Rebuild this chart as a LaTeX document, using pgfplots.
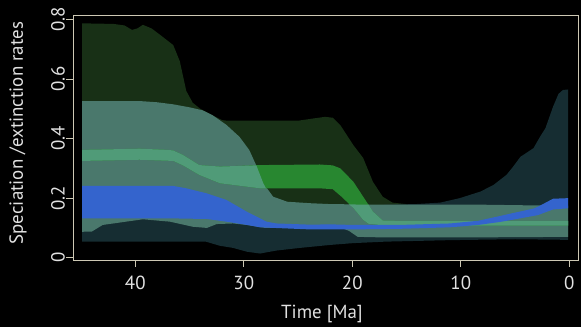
\documentclass[border=0pt]{standalone}
\usepackage{pgfplots}
\pgfplotsset{compat=1.18}
\usepackage{fontspec}
\setmainfont{PT Sans}
\definecolor{dkgreen}{RGB}{24,48,22}
\definecolor{dkteal}{RGB}{22,45,50}
\definecolor{greyteal}{RGB}{74,120,108}
\definecolor{ltgreen}{RGB}{80,155,120}
\definecolor{brgreen}{RGB}{40,135,48}
\definecolor{bandblue}{RGB}{52,100,205}
\definecolor{frame}{RGB}{205,200,180}
\definecolor{txt}{RGB}{225,225,225}
\begin{document}
\begin{tikzpicture}
\path[use as bounding box] (-73bp,-67bp) rectangle (508bp,260bp);
\fill[black] (-73bp,-67bp) rectangle (508bp,260bp);
\begin{axis}[
  at={(0,0)}, anchor=south west,
  scale only axis, width=505bp, height=245bp,
  x dir=reverse,
  xmin=-0.8, xmax=45.74, ymin=-0.0077, ymax=0.815,
  xtick={0,10,20,30,40}, ytick={0,0.2,0.4,0.6,0.8},
  xtick pos=bottom, ytick pos=left,
  tick align=outside, major tick length=6.7bp,
  axis line style={draw=frame, line width=0.8bp},
  every tick/.style={draw=frame, line width=0.8bp},
  /pgf/number format/assume math mode=true,
  ticklabel style={font=\fontsize{19}{22}\selectfont, text=txt},
  yticklabel style={rotate=90, anchor=south},
  xticklabel style={anchor=north},
  yticklabel shift=-2bp, xticklabel shift=6bp,
  xlabel={Time [Ma]}, ylabel={Speciation /extinction rates},
  label style={font=\fontsize{19}{22}\selectfont, text=txt},
  xlabel style={at={(axis description cs:0.493,-0.22)}, anchor=center},
  ylabel style={at={(axis description cs:-0.109,0.518)}, anchor=center, rotate=0},
]
% dark green outer speciation band
\addplot[fill=dkgreen, draw=none] coordinates {
(44.9,0.787)(42,0.785)(41,0.78)(40.3,0.765)(39.8,0.77)(39.3,0.782)(38.5,0.77)(37.7,0.748)(36.5,0.714)(35.9,0.66)(35.3,0.56)(34.7,0.52)(34,0.5)(33,0.48)(32,0.462)(31.5,0.46)(25,0.46)(23.5,0.468)(22.5,0.473)(21.8,0.47)(21.1,0.445)(19.9,0.378)(19,0.335)(18.1,0.255)(17.2,0.205)(16.3,0.185)(15,0.18)
(15,0.15)(44.9,0.15)} -- cycle;
% dark teal outer extinction band
\addplot[fill=dkteal, draw=none] coordinates {
(44.9,0.14)(20,0.14)(17,0.178)(14.2,0.18)(11.9,0.185)(10.1,0.2)(8.2,0.222)(7,0.244)(5.8,0.278)(5.3,0.3)(4.5,0.339)(3.3,0.368)(2.7,0.406)(2.2,0.435)(1.5,0.507)(1.0,0.55)(0.6,0.563)(0.1,0.565)
(0.1,0.06)(5,0.062)(11,0.059)(16.9,0.054)(19.9,0.049)(22,0.043)(24.8,0.033)(27,0.024)(28.5,0.014)(29.7,0.02)(31,0.033)(32.2,0.04)(33.5,0.054)(44.9,0.054)} -- cycle;
% grey-teal band
\addplot[fill=greyteal, draw=none] coordinates {
(44.9,0.526)(39.6,0.526)(38,0.522)(36.5,0.515)(35,0.505)(33.8,0.495)(32.9,0.479)(31.6,0.446)(30.4,0.406)(29.5,0.362)(28.8,0.306)(28.2,0.25)(27.3,0.205)(26,0.188)(23.9,0.183)(22,0.18)(17,0.178)(12,0.178)(8,0.178)(4,0.176)(0.1,0.175)
(0.1,0.07)(10,0.068)(17,0.068)(19.5,0.07)(20.3,0.09)(21,0.1)(28,0.1)(29.7,0.11)(31,0.115)(32.5,0.113)(33.4,0.1)(34.7,0.104)(36.8,0.121)(39.3,0.129)(43,0.11)(44,0.088)(44.9,0.087)} -- cycle;
% green speciation band
\addplot[fill=brgreen, draw=none] coordinates {
(44.9,0.362)(39.6,0.366)(37,0.362)(36.5,0.36)(35.6,0.345)(34.1,0.311)(32.2,0.306)(28.5,0.311)(23,0.313)(21.8,0.31)(21.1,0.30)(19.9,0.255)(19,0.205)(18.1,0.155)(17.2,0.125)(16,0.124)(10,0.124)(5,0.124)(0.1,0.124)
(0.1,0.108)(10,0.108)(17,0.108)(18.5,0.114)(19,0.127)(19.9,0.167)(21,0.205)(21.8,0.23)(23,0.233)(28.5,0.233)(32.2,0.25)(34.1,0.278)(35.6,0.31)(36.5,0.325)(39.6,0.329)(44.9,0.325)} -- cycle;
% where the green band lies over the grey-teal band
\addplot[fill=ltgreen, draw=none] coordinates {
(44.9,0.362)(39.6,0.366)(37,0.362)(36.5,0.36)(35.6,0.345)(34.1,0.311)(32.2,0.306)(28.85,0.31)(28.8,0.306)(28.2,0.25)(27.95,0.233)
(28.5,0.233)(32.2,0.25)(34.1,0.278)(35.6,0.31)(36.5,0.325)(39.6,0.329)(44.9,0.325)} -- cycle;
\addplot[fill=ltgreen, draw=none] coordinates {
(20.3,0.179)(18.5,0.178)(18.1,0.155)(17.2,0.125)(16,0.124)(10,0.124)(5,0.124)(0.1,0.124)
(0.1,0.108)(10,0.108)(17,0.108)(18.5,0.114)(19,0.127)(19.9,0.167)} -- cycle;
% blue extinction band
\addplot[fill=bandblue, draw=none] coordinates {
(44.9,0.241)(36.5,0.241)(35.3,0.233)(33.4,0.216)(31.6,0.194)(29.7,0.154)(27.9,0.121)(27,0.115)(23.9,0.111)(22,0.112)(20,0.11)(15.6,0.11)(11,0.115)(8.4,0.124)(6.4,0.14)(5.3,0.149)(3.3,0.165)(2.9,0.171)(1.5,0.198)(0.1,0.2)
(0.1,0.166)(1.5,0.162)(2.9,0.143)(5.3,0.127)(6.4,0.12)(8.4,0.11)(11,0.102)(15.6,0.097)(20,0.095)(23.9,0.095)(28.5,0.102)(29.7,0.11)(31.6,0.121)(33.4,0.13)(36.5,0.132)(44.9,0.132)} -- cycle;
\end{axis}
\end{tikzpicture}
\end{document}
